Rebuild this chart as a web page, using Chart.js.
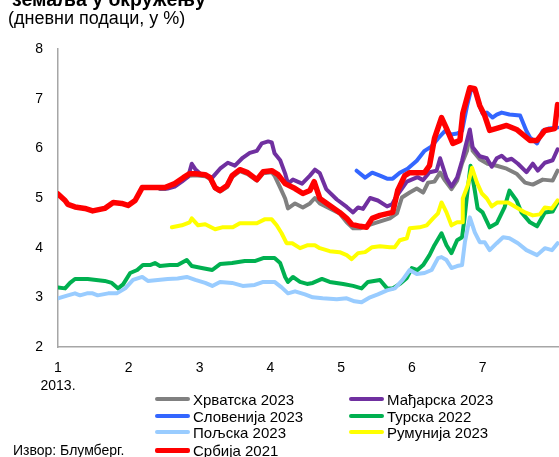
<!DOCTYPE html>
<html>
<head>
<meta charset="utf-8">
<script src="https://cdn.jsdelivr.net/npm/chart.js@4"></script>
<style>
  html, body { margin: 0; padding: 0; background: #fff; }
  #wrap { position: relative; width: 559px; height: 457px; overflow: hidden;
          font-family: "Liberation Sans", Arial, sans-serif; color: #000; }
  #chart { position: absolute; left: 0; top: 0; }
  .title { position: absolute; left: 12px; top: -10.5px; font-size: 19.5px; line-height: 19.5px;
           font-weight: bold; white-space: nowrap; }
  .sub { position: absolute; left: 8px; top: 8px; font-size: 18px; line-height: 20px; white-space: nowrap; }
  .source { position: absolute; left: 13px; top: 442px; font-size: 14px; line-height: 16px; white-space: nowrap; }
  .item { position: absolute; height: 17px; display: flex; align-items: center;
          font-size: 15px; line-height: 17px; white-space: nowrap; }
  .item i { display: block; width: 35px; margin-right: 3px; border-radius: 2px; }
</style>
</head>
<body>
<div id="wrap">
  <canvas id="chart" width="559" height="457"></canvas>
  <div class="title">земаља у окружењу</div>
  <div class="sub">(дневни подаци, у %)</div>
  <div class="source">Извор: Блумберг.</div>
  <div id="legend"></div>
</div>
<script>
// Yields on government bonds, daily data, 2013 (x = month of year, 1 = start of January)
const monthTicks = [1, 2, 3, 4, 5, 6, 7];
const yearLabel = '2013.';

const seriesNames = ['Хрватска 2023', 'Мађарска 2023', 'Словенија 2023', 'Турска 2022',
                     'Пољска 2023', 'Румунија 2023', 'Србија 2021'];
const seriesColors = ['#808080', '#7030A0', '#3366FF', '#00B050', '#99CCFF', '#FFFF00', '#FF0000'];

// [month, yield %]
const hrvatska = [[2.44,5.18],[2.51,5.18],[2.65,5.26],[2.77,5.38],[2.86,5.45],[2.94,5.46],[3.08,5.44],[3.15,5.38],
  [3.22,5.19],[3.29,5.13],[3.39,5.22],[3.46,5.42],[3.57,5.54],[3.68,5.48],[3.81,5.35],[3.90,5.50],[4.02,5.52],
  [4.06,5.45],[4.14,5.21],[4.21,4.99],[4.25,4.79],[4.35,4.89],[4.46,4.81],[4.56,4.89],[4.63,5.00],[4.70,4.89],
  [4.84,4.79],[4.98,4.69],[5.08,4.51],[5.17,4.39],[5.27,4.39],[5.38,4.45],[5.51,4.51],[5.69,4.59],[5.79,4.69],
  [5.86,5.01],[5.97,5.11],[6.07,5.19],[6.16,5.11],[6.23,5.31],[6.32,5.33],[6.40,5.51],[6.47,5.35],[6.56,5.18],
  [6.64,5.35],[6.71,5.70],[6.78,5.95],[6.82,6.30],[6.86,5.95],[6.96,5.78],[7.07,5.69],[7.20,5.65],[7.34,5.59],
  [7.48,5.49],[7.60,5.31],[7.71,5.27],[7.85,5.37],[7.99,5.35],[8.06,5.55]];

const madjarska = [[2.44,5.19],[2.55,5.19],[2.65,5.23],[2.75,5.33],[2.84,5.43],[2.89,5.69],[2.94,5.58],[3.01,5.49],
  [3.18,5.41],[3.29,5.59],[3.40,5.71],[3.50,5.65],[3.61,5.81],[3.71,5.91],[3.81,5.95],[3.88,6.10],[3.97,6.14],
  [4.02,6.12],[4.06,5.90],[4.14,5.76],[4.21,5.49],[4.25,5.29],[4.32,5.37],[4.45,5.29],[4.56,5.45],[4.63,5.57],
  [4.70,5.50],[4.79,5.18],[4.94,4.97],[5.08,4.82],[5.17,4.71],[5.24,4.81],[5.31,4.78],[5.41,5.00],[5.52,4.95],
  [5.65,4.83],[5.72,4.87],[5.79,5.05],[5.93,5.33],[6.08,5.42],[6.16,5.36],[6.25,5.52],[6.35,5.55],[6.40,5.80],
  [6.49,5.40],[6.56,5.23],[6.64,5.41],[6.71,5.75],[6.76,6.05],[6.82,6.38],[6.86,6.02],[6.96,5.84],[7.06,5.80],
  [7.13,5.63],[7.20,5.80],[7.27,5.85],[7.34,5.76],[7.41,5.79],[7.50,5.69],[7.62,5.52],[7.71,5.69],[7.78,5.55],
  [7.88,5.71],[7.99,5.76],[8.06,5.98]];

const slovenija = [[5.22,5.55],[5.34,5.41],[5.44,5.51],[5.55,5.45],[5.65,5.39],[5.73,5.39],[5.83,5.51],[5.94,5.59],
  [6.07,5.75],[6.18,5.95],[6.28,6.04],[6.37,6.20],[6.47,6.35],[6.56,6.28],[6.64,6.30],[6.71,6.35],[6.78,6.85],
  [6.84,7.20],[6.90,7.15],[6.96,6.85],[7.00,6.70],[7.06,6.72],[7.14,6.62],[7.20,6.68],[7.27,6.72],[7.38,6.68],
  [7.53,6.66],[7.62,6.35],[7.67,6.22],[7.77,6.10],[7.85,6.35],[7.94,6.40],[8.06,6.42]];

const turska = [[1.00,3.20],[1.10,3.18],[1.17,3.29],[1.24,3.37],[1.42,3.37],[1.66,3.33],[1.76,3.29],[1.85,3.18],
  [1.92,3.26],[2.02,3.49],[2.12,3.55],[2.20,3.65],[2.30,3.65],[2.37,3.69],[2.44,3.63],[2.58,3.65],[2.69,3.65],
  [2.82,3.75],[2.89,3.63],[3.03,3.59],[3.18,3.55],[3.29,3.67],[3.46,3.69],[3.64,3.73],[3.78,3.73],[3.90,3.79],
  [4.06,3.79],[4.14,3.69],[4.21,3.41],[4.25,3.31],[4.32,3.41],[4.42,3.31],[4.52,3.27],[4.60,3.29],[4.73,3.37],
  [4.84,3.31],[5.03,3.27],[5.17,3.23],[5.29,3.18],[5.38,3.31],[5.55,3.35],[5.65,3.18],[5.73,3.18],[5.83,3.27],
  [5.93,3.39],[6.00,3.59],[6.08,3.55],[6.16,3.65],[6.25,3.85],[6.32,4.05],[6.42,4.29],[6.49,4.05],[6.56,3.89],
  [6.64,4.15],[6.71,4.21],[6.75,4.65],[6.78,5.05],[6.83,5.65],[6.89,5.15],[6.93,4.79],[7.00,4.71],[7.10,4.41],
  [7.20,4.49],[7.31,4.81],[7.38,5.15],[7.48,4.95],[7.55,4.71],[7.67,4.51],[7.77,4.43],[7.88,4.71],[7.99,4.73],
  [8.06,4.91]];

const poljska = [[1.00,2.98],[1.14,3.04],[1.24,3.08],[1.31,3.04],[1.41,3.08],[1.49,3.08],[1.56,3.04],[1.71,3.08],
  [1.83,3.08],[1.95,3.18],[2.06,3.35],[2.19,3.41],[2.27,3.33],[2.41,3.35],[2.55,3.37],[2.69,3.38],[2.82,3.41],
  [2.94,3.35],[3.08,3.29],[3.18,3.23],[3.29,3.31],[3.46,3.29],[3.61,3.23],[3.78,3.25],[3.90,3.31],[4.06,3.31],
  [4.16,3.20],[4.25,3.08],[4.35,3.12],[4.49,3.06],[4.60,3.00],[4.74,2.98],[4.94,2.96],[5.08,2.98],[5.19,2.92],
  [5.29,2.90],[5.41,3.00],[5.52,3.06],[5.65,3.14],[5.76,3.18],[5.87,3.35],[5.97,3.55],[6.07,3.47],[6.18,3.49],
  [6.28,3.55],[6.37,3.79],[6.42,3.81],[6.49,3.75],[6.56,3.59],[6.64,3.63],[6.71,3.65],[6.75,4.11],[6.82,4.61],
  [6.89,4.31],[6.96,4.11],[7.03,4.11],[7.10,3.95],[7.20,4.09],[7.29,4.21],[7.38,4.19],[7.50,4.09],[7.62,3.95],
  [7.77,3.85],[7.88,3.99],[7.98,3.95],[8.06,4.09]];

const rumunija = [[2.61,4.41],[2.75,4.45],[2.86,4.51],[2.89,4.59],[2.98,4.45],[3.08,4.47],[3.22,4.37],[3.32,4.41],
  [3.47,4.41],[3.57,4.49],[3.71,4.49],[3.81,4.49],[3.92,4.57],[4.02,4.57],[4.09,4.45],[4.16,4.29],[4.23,4.09],
  [4.31,4.09],[4.42,3.99],[4.53,4.05],[4.63,4.05],[4.70,3.99],[4.84,3.93],[4.98,3.91],[5.08,3.85],[5.15,3.77],
  [5.24,3.89],[5.34,3.91],[5.44,4.01],[5.55,4.03],[5.69,4.01],[5.76,4.01],[5.83,4.15],[5.93,4.19],[5.97,4.39],
  [6.11,4.41],[6.21,4.45],[6.30,4.59],[6.37,4.69],[6.42,4.91],[6.49,4.71],[6.56,4.45],[6.64,4.51],[6.71,4.51],
  [6.72,4.99],[6.79,5.25],[6.85,5.61],[6.92,5.31],[6.99,5.09],[7.06,4.99],[7.13,4.83],[7.21,4.91],[7.36,4.91],
  [7.48,4.81],[7.60,4.71],[7.71,4.65],[7.81,4.67],[7.88,4.81],[7.98,4.79],[8.06,4.95]];

const srbija = [[1.00,5.08],[1.10,4.95],[1.14,4.87],[1.24,4.82],[1.38,4.79],[1.49,4.74],[1.66,4.79],[1.78,4.91],
  [1.90,4.89],[1.99,4.85],[2.09,4.95],[2.19,5.21],[2.37,5.21],[2.51,5.21],[2.65,5.29],[2.77,5.41],[2.86,5.49],
  [2.94,5.49],[3.08,5.47],[3.15,5.41],[3.22,5.21],[3.29,5.15],[3.39,5.25],[3.46,5.45],[3.57,5.57],[3.68,5.51],
  [3.81,5.37],[3.90,5.53],[4.02,5.55],[4.11,5.47],[4.21,5.29],[4.35,5.19],[4.46,5.09],[4.56,5.15],[4.62,5.33],
  [4.70,4.99],[4.84,4.85],[4.98,4.71],[5.08,4.59],[5.15,4.47],[5.27,4.43],[5.36,4.41],[5.44,4.59],[5.55,4.65],
  [5.73,4.71],[5.80,5.15],[5.90,5.45],[5.97,5.51],[6.11,5.51],[6.18,5.51],[6.25,5.65],[6.32,6.20],[6.42,6.62],
  [6.49,6.40],[6.58,6.10],[6.68,6.16],[6.72,6.70],[6.82,7.22],[6.89,7.20],[6.96,6.86],[7.03,6.66],[7.10,6.36],
  [7.20,6.40],[7.34,6.46],[7.48,6.38],[7.67,6.16],[7.77,6.16],[7.88,6.36],[8.02,6.40],[8.06,6.88]];

const seriesData = [hrvatska, madjarska, slovenija, turska, poljska, rumunija, srbija];
const lineWidths = [4, 4, 4, 4, 4, 4, 5.5];

const datasets = seriesNames.map((name, i) => ({
  label: name,
  data: seriesData[i].map(([x, y]) => ({ x, y })),
  borderColor: seriesColors[i],
  backgroundColor: seriesColors[i],
  borderWidth: lineWidths[i],
  pointRadius: 0,
  tension: 0,
  borderJoinStyle: 'round',
  borderCapStyle: 'round',
  order: seriesNames.length - i   // later series are drawn on top
}));

const axisFont = { family: '"Liberation Sans", Arial, sans-serif', size: 14, lineHeight: 1.3 };

new Chart(document.getElementById('chart'), {
  type: 'line',
  data: { datasets },
  options: {
    responsive: false,
    animation: false,
    events: [],
    layout: { padding: { top: 49, left: 0, right: 0, bottom: 55 } },
    plugins: { legend: { display: false }, tooltip: { enabled: false } },
    scales: {
      x: {
        type: 'linear',
        min: 1,
        max: 8.08,
        grid: { display: false, drawTicks: false },
        border: { display: true, color: '#A6A6A6', width: 1.5 },
        afterBuildTicks: s => { s.ticks = monthTicks.map(v => ({ value: v })); },
        afterFit: s => { s.height = 55; },
        ticks: {
          color: '#000',
          font: axisFont,
          padding: 12,
          maxRotation: 0,
          autoSkip: false,
          callback: v => (v === monthTicks[0] ? [String(v), yearLabel] : String(v))
        }
      },
      y: {
        min: 2,
        max: 8,
        grid: { display: false, drawTicks: false },
        border: { display: true, color: '#A6A6A6', width: 1.5 },
        afterFit: s => { s.width = 58; },
        ticks: { stepSize: 1, color: '#000', font: axisFont, padding: 15 }
      }
    }
  }
});

// two-column legend below the plot
const legend = document.getElementById('legend');
const legendCols = [155, 349];
const legendRows = [399, 416, 432, 450];
datasets.forEach((ds, i) => {
  const item = document.createElement('div');
  item.className = 'item';
  item.style.left = legendCols[i % 2] + 'px';
  item.style.top = (legendRows[Math.floor(i / 2)] - 8.5) + 'px';
  const swatch = document.createElement('i');
  swatch.style.background = ds.borderColor;
  swatch.style.height = (i === 6 ? 5 : 4) + 'px';
  item.appendChild(swatch);
  item.appendChild(document.createTextNode(ds.label));
  legend.appendChild(item);
});
</script>
</body>
</html>
